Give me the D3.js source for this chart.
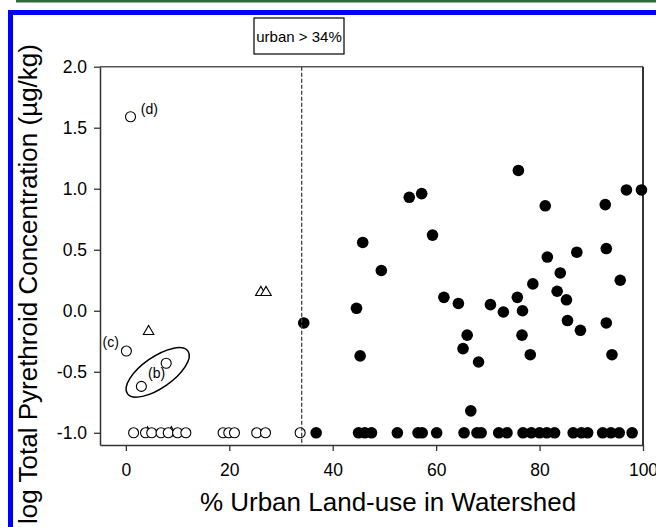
<!DOCTYPE html>
<html><head><meta charset="utf-8">
<script src="https://cdn.jsdelivr.net/npm/d3@7"></script>
<style>html,body{margin:0;padding:0;background:#fff;} svg{display:block}</style>
</head><body><svg id="c" width="656" height="527"></svg>
<script>
// ---- data ----
const xTicks = [0, 20, 40, 60, 80, 100];
const yTicks = [-1.0, -0.5, 0.0, 0.5, 1.0, 1.5, 2.0];
const threshold = 34;
const thresholdLabel = "urban > 34%";
const xLabel = "% Urban Land-use in Watershed";
const yLabel = "log Total Pyrethroid Concentration (µg/kg)";

// open circles (urban <= 34%)
const openX = [1.5, 3.8, 5.0, 6.8, 8.2, 10.0, 11.6, 18.8, 19.9, 21.0, 25.3, 27.0, 33.7, 0.9, 0.1, 3.0, 7.8];
const openY = [-1, -1, -1, -1, -1, -1, -1, -1, -1, -1, -1, -1, -1, 1.59, -0.33, -0.62, -0.43];
// open triangles
const triX = [4.2, 8.8, 4.4, 26.1, 27.1];
const triY = [-1, -1, -0.17, 0.15, 0.15];
// filled circles (urban > 34%)
const filledX = [34.4, 45.8, 44.6, 45.3, 49.4, 54.8, 57.2, 59.3, 61.5, 64.3, 66.0, 65.2, 68.2, 66.7,
  70.5, 73.0, 75.7, 75.9, 76.7, 76.6, 78.2, 78.7, 81.1, 81.5, 83.4, 84.0, 85.2, 85.4, 87.2, 87.9,
  92.7, 92.9, 92.9, 94.0, 95.6, 96.8, 99.7,
  36.8, 45.0, 46.2, 47.5, 52.5, 56.5, 57.3, 60.1, 65.4, 67.9, 68.7, 72.1, 73.7, 76.8, 78.4, 80.0,
  81.4, 82.9, 86.5, 88.1, 89.3, 92.2, 93.8, 95.4, 97.9];
const filledY = [-0.10, 0.56, 0.02, -0.37, 0.33, 0.93, 0.96, 0.62, 0.11, 0.06, -0.20, -0.31, -0.42, -0.82,
  0.05, -0.01, 0.11, 1.15, 0.00, -0.20, -0.36, 0.22, 0.86, 0.44, 0.16, 0.31, 0.09, -0.08, 0.48, -0.16,
  0.87, 0.51, -0.10, -0.36, 0.25, 0.99, 0.99,
  -1, -1, -1, -1, -1, -1, -1, -1, -1, -1, -1, -1, -1, -1, -1, -1,
  -1, -1, -1, -1, -1, -1, -1, -1, -1];
// annotations
const annoText = ["(d)", "(c)", "(b)"];
const annoX = [2.9, -4.5, 4.3];
const annoY = [1.61, -0.295, -0.555];
const ellipseCenter = [6.15, -0.505];

// ---- drawing ----
const svg = d3.select("#c");
const font = "'Liberation Sans', Arial, sans-serif";
const x = d3.scaleLinear().domain([-5, 100]).range([100, 643]);
const y = d3.scaleLinear().domain([-1.1, 2.0]).range([445, 66.7]);

// page decoration
svg.append("rect").attr("x", 16).attr("y", 0).attr("width", 640).attr("height", 2.5).attr("fill", "#2e6a3c");
svg.append("rect").attr("x", 8).attr("y", 10).attr("width", 648).attr("height", 5).attr("fill", "#0000ff");
svg.append("rect").attr("x", 8).attr("y", 10).attr("width", 5).attr("height", 517).attr("fill", "#0000ff");

// frame top/right
svg.append("line").attr("x1", 100).attr("x2", 643).attr("y1", 66.7).attr("y2", 66.7).attr("stroke", "#555").attr("stroke-width", 1.5);
svg.append("line").attr("x1", 643).attr("x2", 643).attr("y1", 66.7).attr("y2", 445).attr("stroke", "#333").attr("stroke-width", 2);

const gx = svg.append("g").attr("transform", "translate(0,445)")
  .call(d3.axisBottom(x).tickValues(xTicks).tickSize(6).tickSizeOuter(0).tickPadding(13).tickFormat(d => String(d)));
const gy = svg.append("g").attr("transform", "translate(100,0)")
  .call(d3.axisLeft(y).tickValues(yTicks).tickSize(6).tickSizeOuter(0).tickPadding(7).tickFormat(d => d.toFixed(1)));
[gx, gy].forEach(g => {
  g.selectAll("path.domain").attr("stroke", "#333").attr("stroke-width", 1.5);
  g.selectAll(".tick line").attr("stroke", "#333").attr("stroke-width", 1.3);
  g.selectAll("text").attr("font-family", font).attr("font-size", 17.5).attr("fill", "#000");
});

// threshold box
svg.append("rect").attr("x", 254).attr("y", 18).attr("width", 90).attr("height", 36)
  .attr("fill", "#fff").attr("stroke", "#000").attr("stroke-width", 1.2);
svg.append("text").attr("x", 299).attr("y", 41.5).attr("text-anchor", "middle")
  .attr("font-family", font).attr("font-size", 15).text(thresholdLabel);

// ellipse
svg.append("ellipse").attr("cx", 0).attr("cy", 0).attr("rx", 37).attr("ry", 15.5)
  .attr("transform", `translate(${x(ellipseCenter[0])},${y(ellipseCenter[1])}) rotate(-35)`)
  .attr("fill", "none").attr("stroke", "#000").attr("stroke-width", 1.5);

// triangles (drawn first, partly covered by circles)
svg.append("g").selectAll("path").data(triX.map((v, i) => [v, triY[i]])).join("path")
  .attr("d", d3.symbol(d3.symbolTriangle, 48))
  .attr("transform", d => `translate(${x(d[0])},${y(d[1])})`)
  .attr("fill", "#fff").attr("stroke", "#000").attr("stroke-width", 1.1);
// open circles
svg.append("g").selectAll("circle").data(openX.map((v, i) => [v, openY[i]])).join("circle")
  .attr("cx", d => x(d[0])).attr("cy", d => y(d[1])).attr("r", 5)
  .attr("fill", "#fff").attr("stroke", "#000").attr("stroke-width", 1.1);
// filled circles
svg.append("g").selectAll("circle").data(filledX.map((v, i) => [v, filledY[i]])).join("circle")
  .attr("cx", d => x(d[0])).attr("cy", d => y(d[1])).attr("r", 5.8).attr("fill", "#000");

// threshold dashed line (on top of markers)
svg.append("line").attr("x1", x(threshold)).attr("x2", x(threshold))
  .attr("y1", y(2.0)).attr("y2", y(-1.1))
  .attr("stroke", "#444").attr("stroke-width", 1.3).attr("stroke-dasharray", "4,2");

// annotations
svg.append("g").selectAll("text").data(annoText.map((t, i) => [t, annoX[i], annoY[i]])).join("text")
  .attr("x", d => x(d[1])).attr("y", d => y(d[2])).attr("font-family", font).attr("font-size", 14).text(d => d[0]);

// axis titles
svg.append("text").attr("x", 388).attr("y", 511).attr("text-anchor", "middle")
  .attr("font-family", font).attr("font-size", 26).text(xLabel);
svg.append("text").attr("transform", "translate(37,284) rotate(-90)").attr("text-anchor", "middle")
  .attr("font-family", font).attr("font-size", 26).text(yLabel);
</script></body></html>
